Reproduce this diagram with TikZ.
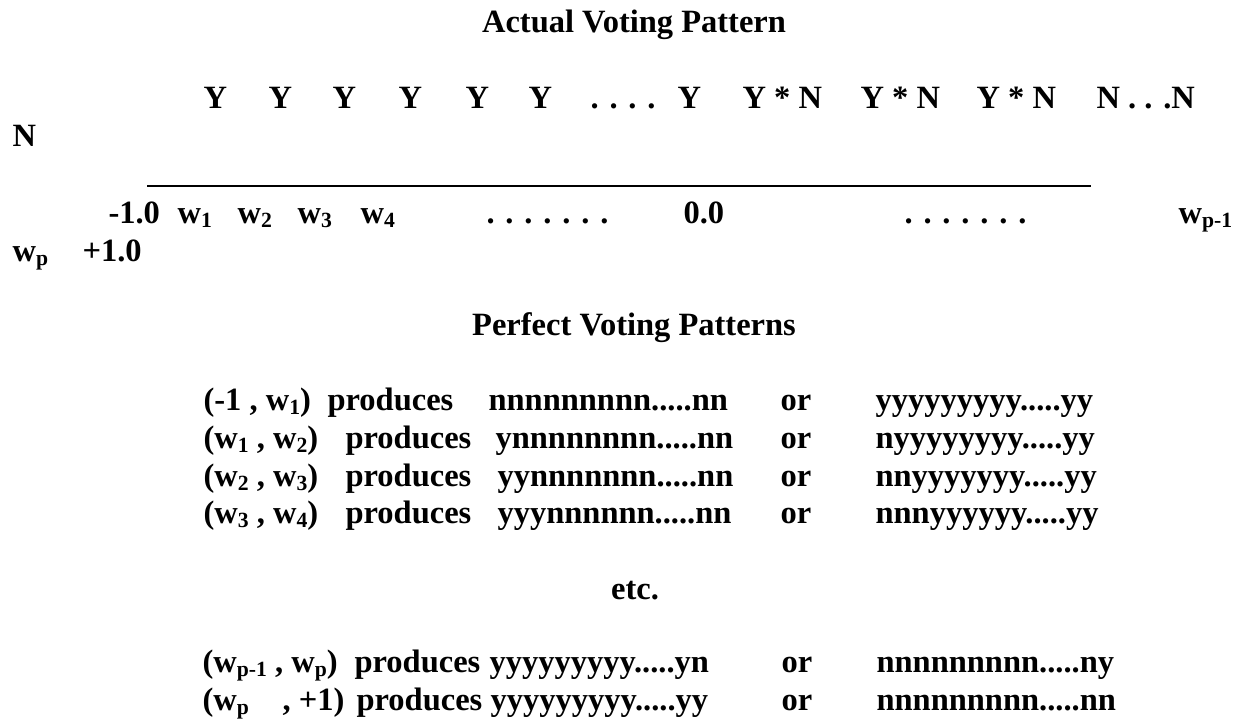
\documentclass[tikz,border=0pt]{standalone}
\usepackage{fontspec}
\setmainfont{Liberation Serif}
\usepackage{tikz}
\usetikzlibrary{positioning}

\newcommand{\lowsub}[1]{\raisebox{-1.6pt}{\fontsize{8}{8}\selectfont #1}}

\begin{document}
\begin{tikzpicture}[x=0.3692pt, y=-0.3692pt, inner sep=0pt, font=\fontsize{12}{14}\selectfont\bfseries]
    \tikzstyle{txt}=[anchor=base west]
    \tikzstyle{head}=[anchor=base]
    \tikzstyle{rule}=[line width=1.1pt]

    \useasboundingbox (0,0) rectangle (1248,721);

    \node[head] (T1) at (634,33) {Actual Voting Pattern};

    % actual votes
    \node[txt] (V1) at (203,108) {Y};
    \node[txt] (V2) at (268,108) {Y};
    \node[txt] (V3) at (332,108) {Y};
    \node[txt] (V4) at (398,108) {Y};
    \node[txt] (V5) at (465,108) {Y};
    \node[txt] (V6) at (528,108) {Y};
    \node[txt] (Vd) at (590,108) {. . . .};
    \node[txt] (V7) at (677,108) {Y};
    \node[txt] (V8) at (742,108) {Y * N};
    \node[txt] (V9) at (860,108) {Y * N};
    \node[txt] (V10) at (976,108) {Y * N};
    \node[txt] (V11) at (1096,108) {N . . .N};
    \node[txt] (V12) at (12,146) {N};

    \coordinate (RL) at (147,186);
    \coordinate (RR) at (1091,186);
    \draw[rule] (RL) -- (RR);

    % scale
    \node[txt] (S0) at (108,223) {-1.0};
    \node[txt] (S1) at (177,223) {w\lowsub{1}};
    \node[txt] (S2) at (237,223) {w\lowsub{2}};
    \node[txt] (S3) at (297,223) {w\lowsub{3}};
    \node[txt] (S4) at (360,223) {w\lowsub{4}};
    \node[txt] (Sd1) at (486,223) {. . . . . . .};
    \node[txt] (Sm) at (683,223) {0.0};
    \node[txt] (Sd2) at (904,223) {. . . . . . .};
    \node[txt] (Sq) at (1178,223) {w\lowsub{p-1}};
    \node[txt] (Sp) at (12,261) {w\lowsub{p}};
    \node[txt] (Se) at (82,261) {+1.0};

    \node[head] (T2) at (634,335) {Perfect Voting Patterns};

    % perfect patterns
    \node[txt] (I1) at (203,410) {(-1 , w\lowsub{1})};
    \node[txt] (P1) at (327,410) {produces};
    \node[txt] (A1) at (488,410) {nnnnnnnnn.....nn};
    \node[txt] (O1) at (780,410) {or};
    \node[txt] (B1) at (875,410) {yyyyyyyyy.....yy};

    \node[txt] (I2) at (203,448) {(w\lowsub{1} , w\lowsub{2})};
    \node[txt] (P2) at (345,448) {produces};
    \node[txt] (A2) at (495,448) {ynnnnnnnn.....nn};
    \node[txt] (O2) at (780,448) {or};
    \node[txt] (B2) at (875,448) {nyyyyyyyy.....yy};

    \node[txt] (I3) at (203,486) {(w\lowsub{2} , w\lowsub{3})};
    \node[txt] (P3) at (345,486) {produces};
    \node[txt] (A3) at (497,486) {yynnnnnnn.....nn};
    \node[txt] (O3) at (780,486) {or};
    \node[txt] (B3) at (875,486) {nnyyyyyyy.....yy};

    \node[txt] (I4) at (203,523) {(w\lowsub{3} , w\lowsub{4})};
    \node[txt] (P4) at (345,523) {produces};
    \node[txt] (A4) at (497,523) {yyynnnnnn.....nn};
    \node[txt] (O4) at (780,523) {or};
    \node[txt] (B4) at (875,523) {nnnyyyyyy.....yy};

    \node[head] (E) at (635,599) {etc.};

    \node[txt] (I5) at (202,672) {(w\lowsub{p-1} , w\lowsub{p})};
    \node[txt] (P5) at (354,672) {produces};
    \node[txt] (A5) at (489,672) {yyyyyyyyy.....yn};
    \node[txt] (O5) at (781,672) {or};
    \node[txt] (B5) at (876,672) {nnnnnnnnn.....ny};

    \node[txt] (I6) at (202,710) {(w\lowsub{p}};
    \node[txt] (J6) at (282,710) {, +1)};
    \node[txt] (P6) at (356,710) {produces};
    \node[txt] (A6) at (490,710) {yyyyyyyyy.....yy};
    \node[txt] (O6) at (781,710) {or};
    \node[txt] (B6) at (876,710) {nnnnnnnnn.....nn};
\end{tikzpicture}
\end{document}
